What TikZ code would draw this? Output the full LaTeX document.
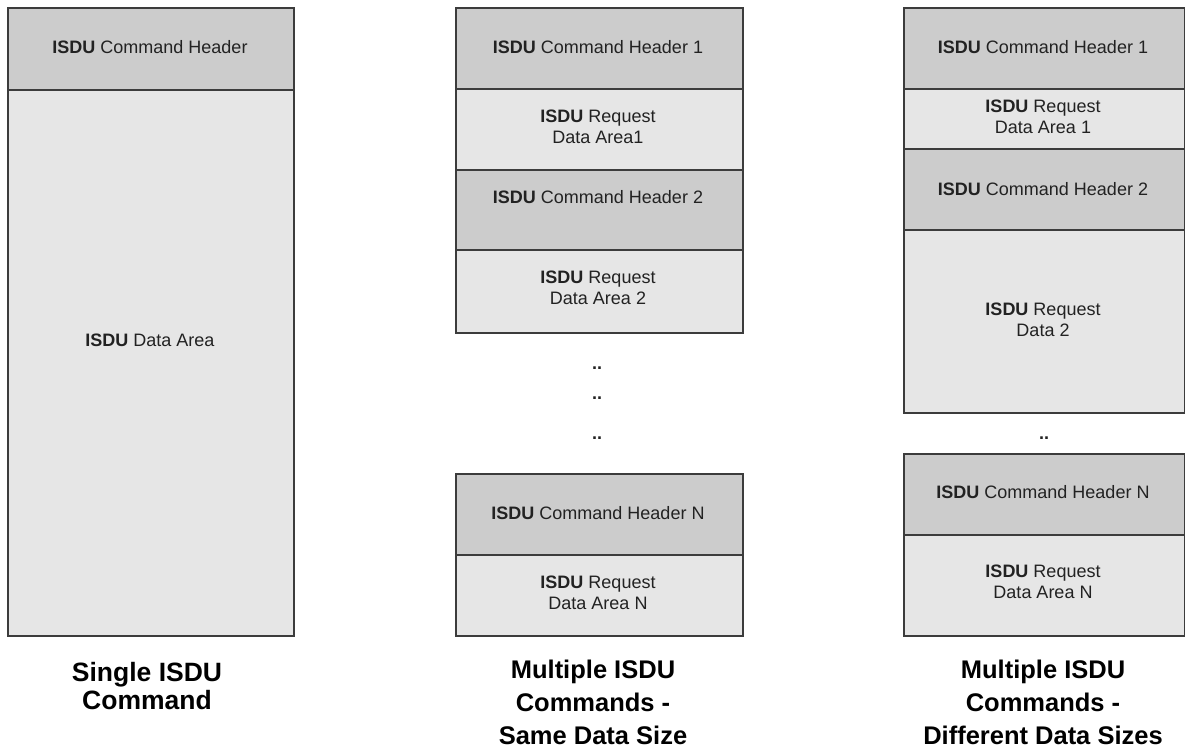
\documentclass[tikz,border=0pt]{standalone}
\usepackage{fontspec}
\setmainfont{Liberation Sans}
\definecolor{hdr}{HTML}{CCCCCC}
\definecolor{dat}{HTML}{E6E6E6}
\definecolor{edge}{HTML}{3C3C3C}
\definecolor{txt}{HTML}{222222}
\tikzset{
  blk/.style={draw=edge, line width=1.8pt, inner sep=0pt, anchor=north west},
  hbox/.style={blk, fill=hdr},
  dbox/.style={blk, fill=dat},
  lbl/.style={font=\fontsize{18}{20.5}\selectfont, text=txt, align=center, inner sep=0pt},
  capA/.style={font=\fontsize{26.5}{28}\selectfont\bfseries, text=black, align=center, inner sep=0pt},
  capB/.style={font=\fontsize{25.5}{33}\selectfont\bfseries, text=black, align=center, inner sep=0pt},
  dotty/.style={font=\fontsize{18}{20}\selectfont\bfseries, text=txt, inner sep=0pt}
}
\newcommand{\isdu}{\textbf{ISDU}}
\begin{document}
\begin{tikzpicture}[x=1pt, y=-1pt]
\useasboundingbox (0,0) rectangle (1185,751);
% ---------- left column ----------
\node[hbox, minimum width=286pt, minimum height=82pt]  (L1) at (7,7) {};
\node[dbox, minimum width=286pt, minimum height=546pt] (L2) at (7,89) {};
\node[lbl] (L1t) at (150,47) {\isdu{} Command Header};
\node[lbl] (L2t) at (150,340) {\isdu{} Data Area};
\node[capA] (Lcap) at (147,686) {Single ISDU\\Command};
% ---------- middle column ----------
\node[hbox, minimum width=287pt, minimum height=81pt] (M1) at (455,7) {};
\node[dbox, minimum width=287pt, minimum height=81pt] (M2) at (455,88) {};
\node[hbox, minimum width=287pt, minimum height=80pt] (M3) at (455,169) {};
\node[dbox, minimum width=287pt, minimum height=83pt] (M4) at (455,249) {};
\node[hbox, minimum width=287pt, minimum height=81pt] (M5) at (455,473) {};
\node[dbox, minimum width=287pt, minimum height=81pt] (M6) at (455,554) {};
\node[lbl] (M1t) at (598,47) {\isdu{} Command Header 1};
\node[lbl] (M2t) at (598,127) {\isdu{} Request\\Data Area1};
\node[lbl] (M3t) at (598,197) {\isdu{} Command Header 2};
\node[lbl] (M4t) at (598,288) {\isdu{} Request\\Data Area 2};
\node[dotty] (Md1) at (597,368) {..};
\node[dotty] (Md2) at (597,398) {..};
\node[dotty] (Md3) at (597,438) {..};
\node[lbl] (M5t) at (598,513) {\isdu{} Command Header N};
\node[lbl] (M6t) at (598,593) {\isdu{} Request\\Data Area N};
\node[capB] (Mcap) at (593,702) {Multiple ISDU\\Commands -\\Same Data Size};
% ---------- right column ----------
\node[hbox, minimum width=281pt, minimum height=81pt]  (R1) at (903,7) {};
\node[dbox, minimum width=281pt, minimum height=60pt]  (R2) at (903,88) {};
\node[hbox, minimum width=281pt, minimum height=81pt]  (R3) at (903,148) {};
\node[dbox, minimum width=281pt, minimum height=183pt] (R4) at (903,229) {};
\node[hbox, minimum width=281pt, minimum height=81pt]  (R5) at (903,453) {};
\node[dbox, minimum width=281pt, minimum height=101pt] (R6) at (903,534) {};
\node[lbl] (R1t) at (1043,47) {\isdu{} Command Header 1};
\node[lbl] (R2t) at (1043,117) {\isdu{} Request\\Data Area 1};
\node[lbl] (R3t) at (1043,189) {\isdu{} Command Header 2};
\node[lbl] (R4t) at (1043,320) {\isdu{} Request\\Data 2};
\node[dotty] (Rd1) at (1044,438) {..};
\node[lbl] (R5t) at (1043,492) {\isdu{} Command Header N};
\node[lbl] (R6t) at (1043,582) {\isdu{} Request\\Data Area N};
\node[capB] (Rcap) at (1043,702) {Multiple ISDU\\Commands -\\Different Data Sizes};
\end{tikzpicture}
\end{document}
